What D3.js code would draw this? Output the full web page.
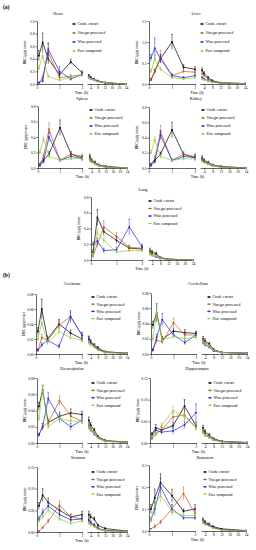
<!DOCTYPE html>
<html>
<head>
<meta charset="utf-8">
<script src="https://cdn.jsdelivr.net/npm/d3@7"></script>
<style>
  body { margin: 0; background: #fff; }
  svg text { font-family: "Liberation Serif", "DejaVu Serif", serif; fill: #000; }
  .axis path, .axis line { stroke: #000; stroke-width: 0.6; }
</style>
</head>
<body>
<div id="chart"></div>
<script>

var timesLeft  = [0.083, 0.25, 0.5, 1, 1.5, 2];
var timesRight = [3, 4, 6, 8, 12, 24];
var ticksLeft  = [0, 1, 2];
var ticksRight = [4, 8, 12, 16, 20, 24];

var seriesNames  = ["Crude extract", "Vinegar processed", "Wine processed", "Pure compound"];
var seriesColors = ["#000000", "#c0561e", "#2424d8", "#8fcf3a"];

var panelNames = ["Heart", "Liver", "Spleen", "Kidney", "Lung",
                  "Cerebrum", "Cerebellum", "Diencephalon", "Hippocampus", "Striatum", "Brainstem"];
var yMaxes = [1.0, 1.5, 0.8, 0.8, 0.8, 0.08, 0.08, 0.08, 0.15, 0.15, 0.3];
var ySteps = [0.2, 0.5, 0.2, 0.2, 0.2, 0.02, 0.02, 0.02, 0.05, 0.05, 0.1];

// each panel: crude, vinegar, wine, pure -- 6 early points then 6 late points
var heart = [
  [0.45, 0.66, 0.40, 0.15, 0.35, 0.18, 0.12, 0.10, 0.07, 0.05, 0.02, 0.00],
  [0.02, 0.10, 0.50, 0.10, 0.12, 0.15, 0.10, 0.08, 0.06, 0.04, 0.02, 0.00],
  [0.02, 0.05, 0.55, 0.20, 0.08, 0.15, 0.13, 0.10, 0.07, 0.05, 0.02, 0.00],
  [0.25, 0.45, 0.12, 0.06, 0.10, 0.14, 0.10, 0.08, 0.06, 0.04, 0.02, 0.00]];
var heartSD = [
  [0.08, 0.15, 0.08, 0.04, 0.04, 0.03, 0.03, 0.02, 0.02, 0.01, 0.01, 0.00],
  [0.01, 0.04, 0.15, 0.03, 0.03, 0.03, 0.02, 0.02, 0.01, 0.01, 0.01, 0.00],
  [0.01, 0.03, 0.10, 0.08, 0.03, 0.03, 0.02, 0.02, 0.01, 0.01, 0.01, 0.00],
  [0.05, 0.05, 0.03, 0.02, 0.02, 0.02, 0.02, 0.01, 0.01, 0.01, 0.00, 0.00]];

var liver = [
  [0.10, 0.30, 0.60, 1.00, 0.40, 0.35, 0.33, 0.25, 0.15, 0.08, 0.03, 0.01],
  [0.10, 0.30, 0.65, 0.20, 0.30, 0.28, 0.25, 0.20, 0.12, 0.06, 0.03, 0.01],
  [0.62, 0.85, 0.60, 0.20, 0.15, 0.20, 0.15, 0.12, 0.08, 0.05, 0.02, 0.01],
  [0.30, 0.60, 0.35, 0.15, 0.12, 0.15, 0.12, 0.10, 0.07, 0.04, 0.02, 0.01]];
var liverSD = [
  [0.03, 0.05, 0.10, 0.18, 0.06, 0.06, 0.05, 0.04, 0.03, 0.02, 0.01, 0.00],
  [0.03, 0.05, 0.15, 0.04, 0.05, 0.05, 0.04, 0.03, 0.02, 0.01, 0.01, 0.00],
  [0.08, 0.25, 0.10, 0.04, 0.03, 0.04, 0.03, 0.02, 0.02, 0.01, 0.01, 0.00],
  [0.05, 0.08, 0.05, 0.03, 0.02, 0.03, 0.02, 0.02, 0.01, 0.01, 0.00, 0.00]];

var spleen = [
  [0.05, 0.10, 0.18, 0.52, 0.18, 0.13, 0.15, 0.10, 0.07, 0.04, 0.02, 0.00],
  [0.05, 0.15, 0.50, 0.10, 0.18, 0.15, 0.12, 0.09, 0.06, 0.04, 0.02, 0.00],
  [0.03, 0.08, 0.40, 0.10, 0.15, 0.12, 0.10, 0.08, 0.05, 0.03, 0.01, 0.00],
  [0.20, 0.37, 0.15, 0.10, 0.12, 0.12, 0.10, 0.08, 0.05, 0.03, 0.01, 0.00]];
var spleenSD = [
  [0.01, 0.02, 0.03, 0.10, 0.03, 0.03, 0.03, 0.02, 0.02, 0.01, 0.01, 0.00],
  [0.01, 0.03, 0.08, 0.02, 0.03, 0.03, 0.02, 0.02, 0.01, 0.01, 0.00, 0.00],
  [0.01, 0.02, 0.06, 0.02, 0.03, 0.03, 0.02, 0.02, 0.01, 0.01, 0.00, 0.00],
  [0.03, 0.04, 0.03, 0.02, 0.02, 0.02, 0.02, 0.01, 0.01, 0.01, 0.00, 0.00]];

var kidney = [
  [0.05, 0.10, 0.18, 0.50, 0.18, 0.13, 0.13, 0.10, 0.07, 0.04, 0.02, 0.00],
  [0.05, 0.12, 0.48, 0.10, 0.18, 0.15, 0.11, 0.09, 0.06, 0.04, 0.02, 0.00],
  [0.03, 0.08, 0.43, 0.10, 0.15, 0.14, 0.10, 0.08, 0.05, 0.03, 0.01, 0.00],
  [0.20, 0.37, 0.15, 0.10, 0.12, 0.12, 0.09, 0.07, 0.05, 0.03, 0.01, 0.00]];
var kidneySD = [
  [0.01, 0.02, 0.03, 0.10, 0.03, 0.03, 0.03, 0.02, 0.02, 0.01, 0.01, 0.00],
  [0.01, 0.03, 0.08, 0.02, 0.03, 0.03, 0.02, 0.02, 0.01, 0.01, 0.00, 0.00],
  [0.01, 0.02, 0.06, 0.02, 0.03, 0.04, 0.02, 0.02, 0.01, 0.01, 0.00, 0.00],
  [0.03, 0.04, 0.03, 0.02, 0.02, 0.02, 0.02, 0.01, 0.01, 0.01, 0.00, 0.00]];

var lung = [
  [0.10, 0.54, 0.36, 0.25, 0.15, 0.14, 0.12, 0.10, 0.08, 0.03, 0.01, 0.00],
  [0.05, 0.20, 0.42, 0.30, 0.16, 0.15, 0.10, 0.08, 0.06, 0.03, 0.01, 0.00],
  [0.20, 0.24, 0.12, 0.13, 0.42, 0.17, 0.08, 0.06, 0.04, 0.02, 0.01, 0.00],
  [0.05, 0.35, 0.25, 0.10, 0.12, 0.12, 0.08, 0.06, 0.05, 0.02, 0.01, 0.00]];
var lungSD = [
  [0.03, 0.10, 0.05, 0.04, 0.03, 0.03, 0.03, 0.02, 0.02, 0.01, 0.00, 0.00],
  [0.02, 0.04, 0.08, 0.05, 0.03, 0.03, 0.02, 0.02, 0.01, 0.01, 0.00, 0.00],
  [0.03, 0.04, 0.03, 0.03, 0.10, 0.03, 0.02, 0.02, 0.01, 0.01, 0.00, 0.00],
  [0.02, 0.04, 0.03, 0.02, 0.02, 0.02, 0.02, 0.01, 0.01, 0.01, 0.00, 0.00]];

var cerebrum = [
  [0.030, 0.060, 0.020, 0.040, 0.028, 0.020, 0.020, 0.016, 0.012, 0.008, 0.003, 0.001],
  [0.005, 0.022, 0.018, 0.038, 0.050, 0.025, 0.020, 0.015, 0.011, 0.007, 0.003, 0.001],
  [0.005, 0.012, 0.018, 0.010, 0.050, 0.025, 0.020, 0.015, 0.010, 0.006, 0.002, 0.001],
  [0.020, 0.042, 0.015, 0.030, 0.022, 0.018, 0.015, 0.012, 0.009, 0.005, 0.002, 0.001]];
var cerebrumSD = [
  [0.005, 0.013, 0.004, 0.006, 0.004, 0.004, 0.004, 0.003, 0.002, 0.002, 0.001, 0.000],
  [0.002, 0.004, 0.004, 0.006, 0.006, 0.004, 0.003, 0.003, 0.002, 0.001, 0.001, 0.000],
  [0.002, 0.003, 0.003, 0.003, 0.008, 0.004, 0.003, 0.003, 0.002, 0.001, 0.001, 0.000],
  [0.004, 0.006, 0.003, 0.004, 0.003, 0.003, 0.003, 0.002, 0.002, 0.001, 0.001, 0.000]];

var cerebellum = [
  [0.038, 0.054, 0.019, 0.030, 0.028, 0.027, 0.020, 0.017, 0.013, 0.006, 0.002, 0.001],
  [0.005, 0.018, 0.016, 0.041, 0.025, 0.025, 0.018, 0.015, 0.011, 0.005, 0.002, 0.001],
  [0.005, 0.022, 0.045, 0.025, 0.015, 0.025, 0.015, 0.012, 0.009, 0.004, 0.002, 0.001],
  [0.020, 0.054, 0.018, 0.023, 0.020, 0.022, 0.016, 0.013, 0.010, 0.005, 0.002, 0.001]];
var cerebellumSD = [
  [0.005, 0.012, 0.004, 0.004, 0.004, 0.003, 0.003, 0.003, 0.002, 0.001, 0.001, 0.000],
  [0.002, 0.004, 0.003, 0.006, 0.004, 0.003, 0.003, 0.002, 0.002, 0.001, 0.001, 0.000],
  [0.002, 0.004, 0.008, 0.004, 0.003, 0.004, 0.003, 0.002, 0.002, 0.001, 0.001, 0.000],
  [0.004, 0.006, 0.003, 0.003, 0.003, 0.003, 0.003, 0.002, 0.002, 0.001, 0.001, 0.000]];

var diencephalon = [
  [0.045, 0.065, 0.025, 0.033, 0.037, 0.035, 0.028, 0.022, 0.016, 0.008, 0.003, 0.001],
  [0.010, 0.020, 0.025, 0.052, 0.033, 0.027, 0.022, 0.018, 0.013, 0.007, 0.003, 0.001],
  [0.010, 0.020, 0.055, 0.030, 0.020, 0.028, 0.020, 0.016, 0.011, 0.006, 0.002, 0.001],
  [0.030, 0.065, 0.020, 0.030, 0.027, 0.027, 0.020, 0.016, 0.012, 0.006, 0.002, 0.001]];
var diencephalonSD = [
  [0.005, 0.006, 0.004, 0.005, 0.005, 0.004, 0.004, 0.003, 0.002, 0.001, 0.001, 0.000],
  [0.002, 0.004, 0.004, 0.006, 0.005, 0.004, 0.003, 0.003, 0.002, 0.001, 0.001, 0.000],
  [0.002, 0.004, 0.007, 0.005, 0.004, 0.004, 0.003, 0.002, 0.002, 0.001, 0.001, 0.000],
  [0.004, 0.006, 0.003, 0.004, 0.004, 0.003, 0.003, 0.002, 0.002, 0.001, 0.001, 0.000]];

var hippocampus = [
  [0.020, 0.035, 0.030, 0.040, 0.085, 0.040, 0.035, 0.025, 0.018, 0.010, 0.004, 0.001],
  [0.010, 0.020, 0.030, 0.060, 0.065, 0.035, 0.028, 0.020, 0.015, 0.008, 0.003, 0.001],
  [0.015, 0.030, 0.025, 0.028, 0.042, 0.070, 0.025, 0.018, 0.013, 0.007, 0.003, 0.001],
  [0.015, 0.020, 0.040, 0.075, 0.060, 0.035, 0.025, 0.018, 0.013, 0.007, 0.003, 0.001]];
var hippocampusSD = [
  [0.004, 0.008, 0.006, 0.008, 0.015, 0.008, 0.006, 0.005, 0.004, 0.002, 0.001, 0.000],
  [0.003, 0.005, 0.006, 0.010, 0.012, 0.006, 0.005, 0.004, 0.003, 0.002, 0.001, 0.000],
  [0.003, 0.006, 0.005, 0.008, 0.008, 0.020, 0.005, 0.004, 0.003, 0.002, 0.001, 0.000],
  [0.003, 0.004, 0.006, 0.010, 0.008, 0.006, 0.005, 0.004, 0.003, 0.002, 0.001, 0.000]];

var striatum = [
  [0.060, 0.085, 0.068, 0.050, 0.035, 0.040, 0.040, 0.035, 0.030, 0.015, 0.008, 0.002],
  [0.002, 0.010, 0.025, 0.062, 0.035, 0.030, 0.025, 0.020, 0.016, 0.008, 0.004, 0.001],
  [0.030, 0.045, 0.060, 0.040, 0.028, 0.030, 0.028, 0.022, 0.016, 0.008, 0.003, 0.001],
  [0.025, 0.035, 0.050, 0.030, 0.020, 0.025, 0.020, 0.016, 0.012, 0.006, 0.002, 0.001]];
var striatumSD = [
  [0.008, 0.015, 0.010, 0.008, 0.006, 0.008, 0.008, 0.006, 0.005, 0.003, 0.002, 0.000],
  [0.001, 0.003, 0.005, 0.010, 0.006, 0.006, 0.005, 0.004, 0.003, 0.002, 0.001, 0.000],
  [0.006, 0.008, 0.008, 0.006, 0.005, 0.005, 0.005, 0.004, 0.003, 0.002, 0.001, 0.000],
  [0.005, 0.006, 0.006, 0.005, 0.004, 0.004, 0.004, 0.003, 0.002, 0.001, 0.001, 0.000]];

var brainstem = [
  [0.10, 0.15, 0.22, 0.16, 0.09, 0.10, 0.05, 0.04, 0.03, 0.02, 0.010, 0.002],
  [0.01, 0.02, 0.04, 0.10, 0.17, 0.08, 0.04, 0.035, 0.025, 0.015, 0.006, 0.001],
  [0.05, 0.10, 0.20, 0.10, 0.06, 0.06, 0.04, 0.035, 0.025, 0.015, 0.006, 0.001],
  [0.05, 0.12, 0.16, 0.09, 0.07, 0.07, 0.04, 0.030, 0.022, 0.012, 0.005, 0.001]];
var brainstemSD = [
  [0.02, 0.04, 0.04, 0.03, 0.01, 0.02, 0.010, 0.008, 0.006, 0.004, 0.002, 0.000],
  [0.00, 0.01, 0.01, 0.02, 0.03, 0.02, 0.008, 0.006, 0.005, 0.003, 0.001, 0.000],
  [0.01, 0.03, 0.04, 0.02, 0.01, 0.01, 0.008, 0.006, 0.005, 0.003, 0.001, 0.000],
  [0.01, 0.02, 0.03, 0.02, 0.01, 0.01, 0.008, 0.006, 0.004, 0.003, 0.001, 0.000]];

var panelData = [heart, liver, spleen, kidney, lung, cerebrum, cerebellum, diencephalon, hippocampus, striatum, brainstem];
var panelSD   = [heartSD, liverSD, spleenSD, kidneySD, lungSD, cerebrumSD, cerebellumSD, diencephalonSD, hippocampusSD, striatumSD, brainstemSD];

// where each panel sits on the page
var layout = [
  {x0: 37,  x2: 82,  x4: 87,  x24: 126, top: 21,  bottom: 84,  tx: 58,  ty: 15,  lx: 72,  ly: 24,  ld: 9},
  {x0: 149, x2: 195, x4: 200, x24: 245, top: 21,  bottom: 84,  tx: 196, ty: 15,  lx: 200, ly: 24,  ld: 9},
  {x0: 38,  x2: 82,  x4: 88,  x24: 127, top: 106, bottom: 168, tx: 82,  ty: 100, lx: 89,  ly: 110, ld: 8},
  {x0: 149, x2: 195, x4: 200, x24: 246, top: 107, bottom: 168, tx: 196, ty: 100, lx: 201, ly: 110, ld: 8},
  {x0: 91,  x2: 142, x4: 148, x24: 193, top: 197, bottom: 260, tx: 143, ty: 191, lx: 148, ly: 201, ld: 7.5},
  {x0: 36,  x2: 82,  x4: 87,  x24: 127, top: 294, bottom: 354, tx: 72,  ty: 285, lx: 91,  ly: 297, ld: 7.2},
  {x0: 151, x2: 196, x4: 201, x24: 247, top: 293, bottom: 354, tx: 198, ty: 285, lx: 207, ly: 297, ld: 7.2},
  {x0: 37,  x2: 82,  x4: 87,  x24: 127, top: 378, bottom: 443, tx: 72,  ty: 370, lx: 91,  ly: 383, ld: 7.4},
  {x0: 150, x2: 196, x4: 201, x24: 247, top: 378, bottom: 443, tx: 197, ty: 370, lx: 208, ly: 383, ld: 7.4},
  {x0: 37,  x2: 82,  x4: 87,  x24: 127, top: 467, bottom: 532, tx: 78,  ty: 459, lx: 91,  ly: 472, ld: 7.4},
  {x0: 149, x2: 195, x4: 201, x24: 246, top: 465, bottom: 531, tx: 205, ty: 459, lx: 203, ly: 472, ld: 7.4}
];

var svg = d3.select("#chart").append("svg")
  .attr("width", 256).attr("height", 550)
  .style("display", "block");

svg.append("text").attr("x", 3).attr("y", 9).attr("font-size", 5.5).attr("font-weight", "bold").text("(a)");
svg.append("text").attr("x", 3).attr("y", 277).attr("font-size", 5.5).attr("font-weight", "bold").text("(b)");

function drawPanel(i) {

  var L = layout[i],
      data = panelData[i],
      sd = panelSD[i];

  var g = svg.append("g");

  var xLeft  = d3.scaleLinear().domain([0, 2]).range([L.x0, L.x2]);
  var xRight = d3.scaleLinear().domain([2, 24]).range([L.x4, L.x24]);
  var y      = d3.scaleLinear().domain([0, yMaxes[i]]).range([L.bottom, L.top]);

  var step = ySteps[i];
  var yTicks = d3.range(0, yMaxes[i] + step / 2, step);
  var fmt = d3.format(step < 0.1 ? ".2f" : ".1f");

  var axisStyle = function (sel) {
    sel.attr("class", "axis").selectAll("text")
       .attr("font-size", 3.6).style("font-family", "Liberation Serif, serif");
    sel.select(".domain").attr("stroke-width", 0.6);
  };

  g.append("g").attr("transform", "translate(" + L.x0 + ",0)")
   .call(d3.axisLeft(y).tickValues(yTicks).tickFormat(fmt).tickSize(1.5).tickSizeOuter(0).tickPadding(1))
   .call(axisStyle);

  g.append("g").attr("transform", "translate(0," + L.bottom + ")")
   .call(d3.axisBottom(xLeft).tickValues(ticksLeft).tickFormat(d3.format("d")).tickSize(1.5).tickSizeOuter(0).tickPadding(1))
   .call(axisStyle);

  g.append("g").attr("transform", "translate(0," + L.bottom + ")")
   .call(d3.axisBottom(xRight).tickValues(ticksRight).tickFormat(d3.format("d")).tickSize(1.5).tickSizeOuter(0).tickPadding(1))
   .call(axisStyle);

  // titles
  g.append("text").attr("x", L.tx).attr("y", L.ty).attr("text-anchor", "middle")
   .attr("font-size", 4.2).text(panelNames[i]);

  g.append("text").attr("x", (L.x0 + L.x24) / 2).attr("y", L.bottom + 10)
   .attr("text-anchor", "middle").attr("font-size", 3.8).text("Time (h)");

  g.append("text")
   .attr("transform", "translate(" + (L.x0 - 11) + "," + ((L.top + L.bottom) / 2) + ") rotate(-90)")
   .attr("text-anchor", "middle").attr("font-size", 3.2).text("DHC (\u03bcg/g tissue)");

  // series
  data.forEach(function (vals, s) {
    var col = seriesColors[s];
    var pts = vals.map(function (v, k) {
      var isLeft = k < timesLeft.length;
      var t = isLeft ? timesLeft[k] : timesRight[k - timesLeft.length];
      return {x: isLeft ? xLeft(t) : xRight(t), v: v, e: sd[s][k], left: isLeft};
    });

    var line = d3.line().x(function (d) { return d.x; }).y(function (d) { return y(d.v); });

    [true, false].forEach(function (side) {
      g.append("path")
       .attr("d", line(pts.filter(function (d) { return d.left === side; })))
       .attr("fill", "none").attr("stroke", col).attr("stroke-width", 0.7);
    });

    var eb = g.selectAll(null).data(pts.filter(function (d) { return d.e > 0; })).enter().append("g");
    eb.append("line")
      .attr("x1", function (d) { return d.x; }).attr("x2", function (d) { return d.x; })
      .attr("y1", function (d) { return y(Math.max(0, d.v - d.e)); })
      .attr("y2", function (d) { return y(d.v + d.e); })
      .attr("stroke", col).attr("stroke-width", 0.5);
    eb.append("line")
      .attr("x1", function (d) { return d.x - 0.9; }).attr("x2", function (d) { return d.x + 0.9; })
      .attr("y1", function (d) { return y(d.v + d.e); })
      .attr("y2", function (d) { return y(d.v + d.e); })
      .attr("stroke", col).attr("stroke-width", 0.5);

    g.selectAll(null).data(pts).enter().append("rect")
      .attr("x", function (d) { return d.x - 0.8; })
      .attr("y", function (d) { return y(d.v) - 0.8; })
      .attr("width", 1.6).attr("height", 1.6)
      .attr("fill", col);
  });

  // legend
  var leg = g.selectAll(".legend").data(seriesNames).enter().append("g")
    .attr("transform", function (d, s) { return "translate(" + L.lx + "," + (L.ly + s * L.ld) + ")"; });
  leg.append("line").attr("x1", 0).attr("x2", 4).attr("y1", 0).attr("y2", 0)
     .attr("stroke", function (d, s) { return seriesColors[s]; }).attr("stroke-width", 0.7);
  leg.append("rect").attr("x", 1.2).attr("y", -0.8).attr("width", 1.6).attr("height", 1.6)
     .attr("fill", function (d, s) { return seriesColors[s]; });
  leg.append("text").attr("x", 5.5).attr("y", 1.3).attr("font-size", 3.8).text(function (d) { return d; });
}

d3.range(panelNames.length).forEach(drawPanel);

</script>
</body>
</html>
